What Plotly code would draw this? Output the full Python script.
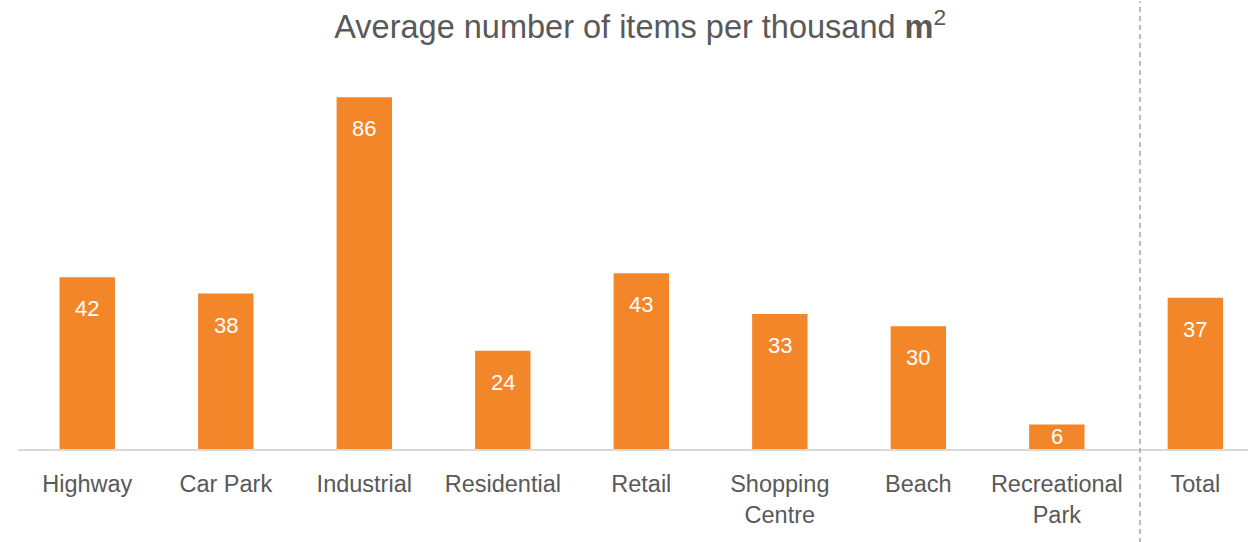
import plotly.graph_objects as go

# Average litter counts per thousand square metres, by site type
categories = ["Highway", "Car Park", "Industrial", "Residential", "Retail",
              "Shopping<br>Centre", "Beach", "Recreational<br>Park", "Total"]
values = [42, 38, 86, 24, 43, 33, 30, 6, 37]

ORANGE = "#F4862A"
GREY_TEXT = "#595959"
FONT = "Liberation Sans, Arial, sans-serif"
Y_MAX = 100
PLOT_H = 542 - 40 - 93  # pixel height of the plotting area

fig = go.Figure()
fig.add_trace(go.Bar(
    x=categories,
    y=values,
    marker=dict(color=ORANGE, line=dict(width=0)),
    hoverinfo="x+y",
))

# value labels: near the top of tall bars, centred in short ones
for cat, val in zip(categories, values):
    bar_px = val / Y_MAX * PLOT_H
    if bar_px > 50:
        fig.add_annotation(
            x=cat, y=val, text=str(val), showarrow=False,
            yanchor="top", yshift=-17,
            font=dict(family=FONT, size=22, color="white"),
        )
    else:
        fig.add_annotation(
            x=cat, y=val / 2, text=str(val), showarrow=False,
            yanchor="middle",
            font=dict(family=FONT, size=22, color="white"),
        )

# dashed separator between the site types and the overall total
fig.add_shape(
    type="line", xref="x", yref="paper",
    x0=7.6, x1=7.6, y0=-0.23, y1=1.095,
    line=dict(color="#A6A6A6", width=1.5, dash="5px,4px"),
)

fig.update_layout(
    width=1248, height=542,
    margin=dict(l=18, r=0, t=40, b=93),
    paper_bgcolor="white", plot_bgcolor="white",
    bargap=0.6,
    showlegend=False,
    title=dict(
        text="Average number of items per thousand <b>m</b><sup>2</sup>",
        x=0.513, xanchor="center", y=0.929, yanchor="bottom",
        font=dict(family=FONT, size=32.5, color=GREY_TEXT),
    ),
    xaxis=dict(
        type="category",
        range=[-0.5, 8.38],
        showline=True, linecolor="#D9D9D9", linewidth=2,
        showgrid=False, zeroline=False,
        ticks="outside", ticklen=13, tickcolor="rgba(0,0,0,0)",
        tickfont=dict(family=FONT, size=23.5, color=GREY_TEXT),
    ),
    yaxis=dict(
        range=[0, Y_MAX], visible=False, showgrid=False, zeroline=False,
    ),
)

fig.write_html("out.html")
